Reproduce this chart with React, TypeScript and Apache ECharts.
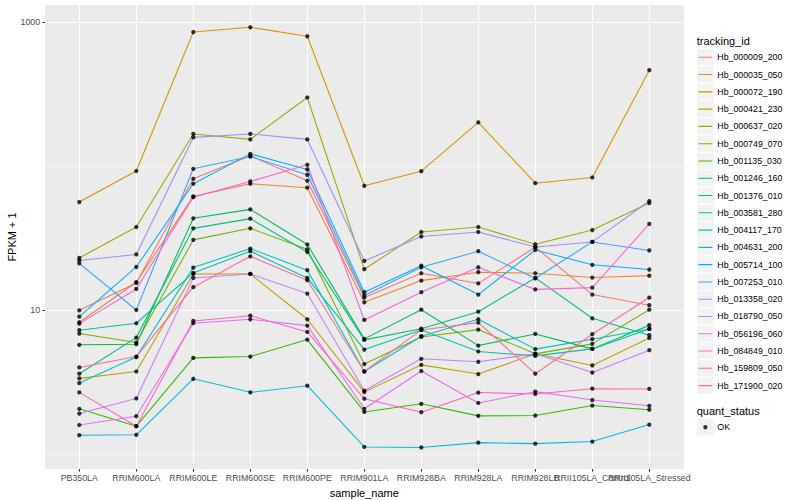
import React, { useEffect, useRef } from 'react';
import * as echarts from 'echarts';

// ---------------- data ----------------
const CATEGORIES = [
  'PB350LA', 'RRIM600LA', 'RRIM600LE', 'RRIM600SE', 'RRIM600PE', 'RRIM901LA',
  'RRIM928BA', 'RRIM928LA', 'RRIM928LB', 'RRII105LA_Control', 'RRII105LA_Stressed',
];

const SERIES_NAMES = [
  'Hb_000009_200', 'Hb_000035_050', 'Hb_000072_190', 'Hb_000421_230', 'Hb_000637_020',
  'Hb_000749_070', 'Hb_001135_030', 'Hb_001246_160', 'Hb_001376_010', 'Hb_003581_280',
  'Hb_004117_170', 'Hb_004631_200', 'Hb_005714_100', 'Hb_007253_010', 'Hb_013358_020',
  'Hb_018790_050', 'Hb_056196_060', 'Hb_084849_010', 'Hb_159809_050', 'Hb_171900_020',
];

const SERIES_COLORS = [
  '#F8766D', '#EA8331', '#D89000', '#C09B00', '#A3A500', '#7CAE00', '#39B600', '#00BB4E',
  '#00BF7D', '#00C1A3', '#00BFC4', '#00BAE0', '#00B0F6', '#35A2FF', '#9590FF', '#C77CFF',
  '#E76BF3', '#FA62DB', '#FF62BC', '#FF6C91',
];

const HB_000009_200 = [9.95, 15.4, 81.5, 117.6, 79.0, 12.2, 18.0, 15.3, 27.3, 12.8, 10.8];
const HB_000035_050 = [8.22, 15.6, 61.5, 75.3, 70.7, 11.3, 16.0, 18.3, 18.0, 16.8, 17.3];
const HB_000072_190 = [56.2, 92.3, 852, 919, 796, 72.9, 92.0, 201, 76.0, 83.2, 463];
const HB_000421_230 = [3.35, 3.74, 17.8, 17.8, 8.62, 2.69, 4.16, 3.59, 4.96, 4.12, 6.4];
const HB_000637_020 = [23.0, 37.7, 167, 153, 299, 19.2, 34.8, 37.7, 28.6, 35.9, 55.3];
const HB_000749_070 = [6.86, 5.94, 30.7, 36.9, 26.4, 4.21, 6.5, 7.31, 4.96, 5.82, 10.05];
const HB_001135_030 = [2.06, 1.56, 4.65, 4.75, 6.23, 1.96, 2.23, 1.84, 1.85, 2.17, 2.03];
const HB_001246_160 = [5.73, 5.79, 43.3, 50.0, 28.5, 6.3, 10.05, 5.66, 6.82, 5.37, 7.84];
const HB_001376_010 = [3.61, 6.43, 36.9, 43.1, 25.3, 6.2, 7.42, 9.73, 16.7, 8.76, 6.68];
const HB_003581_280 = [7.24, 8.09, 18.1, 25.6, 16.7, 5.31, 7.27, 5.15, 4.8, 5.37, 7.39];
const HB_004117_170 = [3.11, 4.71, 19.7, 26.7, 18.9, 3.74, 6.58, 8.62, 5.35, 6.27, 7.39];
const HB_004631_200 = [1.35, 1.36, 3.33, 2.68, 2.98, 1.12, 1.11, 1.2, 1.18, 1.22, 1.6];
const HB_005714_100 = [8.99, 19.9, 75.3, 121.4, 94.6, 13.3, 20.3, 12.8, 26.1, 20.6, 19.1];
const HB_007253_010 = [21.1, 10.0, 95.6, 116.3, 86.9, 12.6, 19.8, 25.6, 16.6, 29.7, 25.9];
const HB_013358_020 = [22.1, 24.3, 158, 167, 153, 21.9, 32.4, 34.8, 27.4, 29.7, 57.1];
const HB_018790_050 = [1.91, 2.43, 16.7, 17.8, 13.0, 2.75, 4.58, 4.37, 4.96, 3.68, 5.26];
const HB_056196_060 = [1.59, 1.83, 8.09, 8.62, 7.79, 2.06, 3.77, 2.26, 2.71, 2.37, 2.16];
const HB_084849_010 = [8.04, 14.0, 60.8, 78.1, 102, 8.53, 13.3, 19.8, 13.9, 14.3, 39.6];
const HB_159809_050 = [2.68, 1.56, 8.39, 9.13, 7.04, 2.42, 1.95, 2.67, 2.61, 2.84, 2.83];
const HB_171900_020 = [3.99, 4.75, 14.4, 23.6, 16.1, 3.74, 7.27, 8.17, 3.61, 6.79, 12.2];

const SERIES_VALUES = [
  HB_000009_200, HB_000035_050, HB_000072_190, HB_000421_230, HB_000637_020,
  HB_000749_070, HB_001135_030, HB_001246_160, HB_001376_010, HB_003581_280,
  HB_004117_170, HB_004631_200, HB_005714_100, HB_007253_010, HB_013358_020,
  HB_018790_050, HB_056196_060, HB_084849_010, HB_159809_050, HB_171900_020,
];

const Y_MAJOR_TICKS = [10, 1000];
const Y_MINOR_TICKS = [1, 100];
const STATUS_NAME = 'OK';

// ---------------- layout ----------------
const FONT = '"Liberation Sans", Arial, Helvetica, sans-serif';
const PANEL = { left: 45, top: 5, right: 684, bottom: 469 };
const Y_1000 = 22; // pixel row of the 1000 gridline
const DECADE = 144; // pixels per decade
const X_FIRST = 79.3;
const X_STEP = 57;
const KEY = 17.28;
const KEY_LEFT = 696.7;
const LEG1_TOP = 48.65;
const LEG2_TOP = 418.6;

const yOfLog = (lg: number) => Y_1000 + (3 - lg) * DECADE;
const LOG_TOP = 3 + (Y_1000 - PANEL.top) / DECADE;
const LOG_BOTTOM = 3 - (PANEL.bottom - Y_1000) / DECADE;

const LINE_ICON = 'path://M0,0L0.1,0M100,100L99.9,100M0,46.9L100,46.9L100,53.1L0,53.1Z';
const DOT_ICON = 'path://M0,0L0.1,0M100,100L99.9,100M34.5,50A15.5,12.4 0 1 1 65.5,50A15.5,12.4 0 1 1 34.5,50Z';

export default function App() {
  const ref = useRef<HTMLDivElement>(null);

  useEffect(() => {
    if (!ref.current) return;
    const chart = echarts.init(ref.current, undefined, { renderer: 'svg' });

    const majLo = Math.log10(Y_MAJOR_TICKS[0]);
    const majHi = Math.log10(Y_MAJOR_TICKS[1]);
    const minLo = Math.log10(Y_MINOR_TICKS[0]);
    const minHi = Math.log10(Y_MINOR_TICKS[1]);

    const panelW = PANEL.right - PANEL.left;
    const panelH = PANEL.bottom - PANEL.top;

    const grids = [
      { left: PANEL.left, top: PANEL.top, width: panelW, height: panelH, show: true, backgroundColor: '#EBEBEB', borderWidth: 0, borderColor: 'transparent' },
      { left: PANEL.left, top: yOfLog(minHi), width: panelW, height: yOfLog(minLo) - yOfLog(minHi), show: false },
      { left: PANEL.left, top: yOfLog(majHi), width: panelW, height: yOfLog(majLo) - yOfLog(majHi), show: false },
      { left: X_FIRST, top: PANEL.top, width: X_STEP * (CATEGORIES.length - 1), height: panelH, show: false },
    ].map((g) => ({ ...g, containLabel: false, outerBoundsMode: 'none' }));

    const hiddenX = (gi: number) => ({ type: 'value', gridIndex: gi, show: false });

    const tickStyle = { show: true, length: 2.7, lineStyle: { color: '#333333', width: 1.07 } };

    const lineSeries = SERIES_NAMES.map((name, i) => ({
      type: 'line',
      name,
      xAxisIndex: 3,
      yAxisIndex: 3,
      data: SERIES_VALUES[i],
      showSymbol: false,
      symbol: 'none',
      lineStyle: { color: SERIES_COLORS[i], width: 1.07 },
      itemStyle: { color: SERIES_COLORS[i] },
      emphasis: { disabled: true },
      z: 2,
    }));

    const pointData: Array<[string, number]> = [];
    SERIES_VALUES.forEach((vals) => vals.forEach((v, j) => pointData.push([CATEGORIES[j], v])));

    const keyRects = [
      ...SERIES_NAMES.map((_, i) => LEG1_TOP + i * KEY),
      LEG2_TOP,
    ].map((y) => ({
      type: 'rect',
      shape: { x: KEY_LEFT, y, width: KEY, height: KEY },
      style: { fill: '#F2F2F2', stroke: '#FFFFFF', lineWidth: 1 },
      silent: true,
      z: 0,
    }));

    const option: any = {
      animation: false,
      backgroundColor: '#FFFFFF',
      grid: grids,
      xAxis: [
        hiddenX(0),
        hiddenX(1),
        hiddenX(2),
        {
          type: 'category',
          gridIndex: 3,
          data: CATEGORIES,
          boundaryGap: false,
          axisLine: { show: false },
          axisTick: { ...tickStyle, interval: 0 },
          axisLabel: { interval: 0, margin: 4.9, fontSize: 8.8, color: '#4D4D4D', fontFamily: FONT },
          splitLine: { show: true, interval: 0, lineStyle: { color: '#FFFFFF', width: 1.07 } },
          name: 'sample_name',
          nameLocation: 'middle',
          nameGap: 14,
          nameTextStyle: { fontSize: 11, color: '#000000', fontFamily: FONT },
        },
      ],
      yAxis: [
        {
          type: 'value',
          gridIndex: 0,
          axisLine: { show: false },
          axisTick: { show: false },
          axisLabel: { show: false },
          splitLine: { show: false },
          name: 'FPKM + 1',
          nameLocation: 'middle',
          nameRotate: 90,
          nameGap: 28,
          nameTextStyle: { fontSize: 11, color: '#000000', fontFamily: FONT },
        },
        {
          type: 'value',
          gridIndex: 1,
          min: minLo,
          max: minHi,
          interval: minHi - minLo,
          axisLine: { show: false },
          axisTick: { show: false },
          axisLabel: { show: false },
          splitLine: { show: true, lineStyle: { color: '#FFFFFF', width: 0.53 } },
        },
        {
          type: 'value',
          gridIndex: 2,
          min: majLo,
          max: majHi,
          interval: majHi - majLo,
          axisLine: { show: false },
          axisTick: tickStyle,
          axisLabel: {
            margin: 4.9,
            fontSize: 8.8,
            color: '#4D4D4D',
            fontFamily: FONT,
            formatter: (v: number) => String(Y_MAJOR_TICKS[Math.round((v - majLo) / (majHi - majLo))]),
          },
          splitLine: { show: true, lineStyle: { color: '#FFFFFF', width: 1.07 } },
        },
        {
          type: 'log',
          gridIndex: 3,
          logBase: 10,
          min: Math.pow(10, LOG_BOTTOM),
          max: Math.pow(10, LOG_TOP),
          show: false,
        },
      ],
      title: [
        { text: 'tracking_id', left: KEY_LEFT, top: 35, padding: 0, textStyle: { fontSize: 11, fontWeight: 'normal', color: '#000000', fontFamily: FONT } },
        { text: 'quant_status', left: KEY_LEFT, top: 405, padding: 0, textStyle: { fontSize: 11, fontWeight: 'normal', color: '#000000', fontFamily: FONT } },
      ],
      legend: [
        {
          orient: 'vertical',
          left: 698.4,
          top: LEG1_TOP,
          padding: 0,
          itemWidth: 13.9,
          itemHeight: KEY,
          itemGap: 0,
          symbolKeepAspect: false,
          selectedMode: false,
          textStyle: { fontSize: 8.8, color: '#000000', fontFamily: FONT },
          data: SERIES_NAMES.map((name, i) => ({
            name,
            icon: LINE_ICON,
            itemStyle: { color: SERIES_COLORS[i], borderWidth: 0 },
          })),
        },
        {
          orient: 'vertical',
          left: 698.4,
          top: LEG2_TOP,
          padding: 0,
          itemWidth: 13.9,
          itemHeight: KEY,
          itemGap: 0,
          symbolKeepAspect: false,
          selectedMode: false,
          textStyle: { fontSize: 8.8, color: '#000000', fontFamily: FONT },
          data: [{ name: STATUS_NAME, icon: DOT_ICON, itemStyle: { color: '#000000', borderWidth: 0 } }],
        },
      ],
      graphic: keyRects,
      series: [
        ...lineSeries,
        {
          type: 'scatter',
          name: STATUS_NAME,
          xAxisIndex: 3,
          yAxisIndex: 3,
          data: pointData,
          symbol: 'circle',
          symbolSize: 4.3,
          itemStyle: { color: '#000000' },
          emphasis: { disabled: true },
          z: 3,
        },
      ],
    };

    chart.setOption(option);
    return () => chart.dispose();
  }, []);

  return (
    <div
      ref={ref}
      style={{ position: 'fixed', left: 0, top: 0, width: 800, height: 500, background: '#fff' }}
    />
  );
}
